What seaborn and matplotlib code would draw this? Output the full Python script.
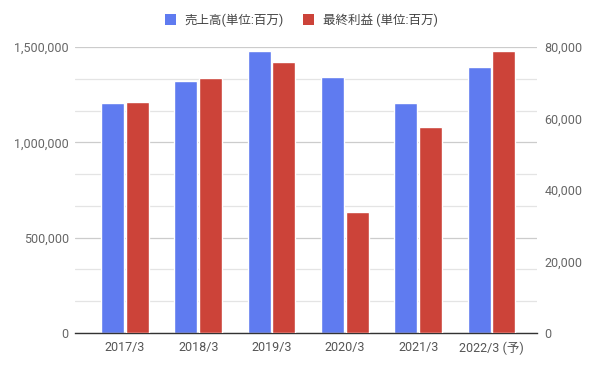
import numpy as np
import pandas as pd
import matplotlib
matplotlib.use("Agg")
import matplotlib.pyplot as plt
from matplotlib.patches import Patch
from matplotlib.ticker import MultipleLocator, FuncFormatter
import seaborn as sns

# Data
periods = ["2017/3", "2018/3", "2019/3", "2020/3", "2021/3", "2022/3 (予)"]
sales = [1205000, 1322000, 1479000, 1342000, 1206000, 1394000]   # 売上高 (百万)
profit = [64600, 71300, 75800, 33800, 57600, 78900]             # 最終利益 (百万)

SALES_LABEL = "売上高(単位:百万)"
PROFIT_LABEL = "最終利益 (単位:百万)"
BLUE = "#5f7bf0"
RED = "#cc4339"
hue_order = [SALES_LABEL, PROFIT_LABEL]


def main():
    sns.set_theme(style="white")
    plt.rcParams["font.family"] = ["Roboto", "Noto Sans CJK JP", "DejaVu Sans"]

    df_sales = pd.DataFrame({"period": periods, "value": sales, "series": SALES_LABEL})
    df_profit = pd.DataFrame({"period": periods, "value": profit, "series": PROFIT_LABEL})

    fig = plt.figure(figsize=(5.96, 3.68), dpi=100)
    ax = fig.add_axes([75 / 596, 1 - 333 / 368, 462 / 596, 286 / 368])
    ax2 = ax.twinx()

    palette = {SALES_LABEL: BLUE, PROFIT_LABEL: RED}
    # left axis: sales, right axis: profit; dodge keeps both in their slot
    sns.barplot(data=df_sales, x="period", y="value", hue="series",
                hue_order=hue_order, palette=palette, order=periods,
                dodge=True, width=0.67, gap=0.06, ax=ax, legend=False,
                saturation=1)
    sns.barplot(data=df_profit, x="period", y="value", hue="series",
                hue_order=hue_order, palette=palette, order=periods,
                dodge=True, width=0.67, gap=0.06, ax=ax2, legend=False,
                saturation=1)

    ax.set_xlim(-0.68, 5.62)
    ax.set_ylim(0, 1500000)
    ax2.set_ylim(0, 80000)

    # grid: majors at 500k, light lines in between (9 intervals)
    ax.yaxis.set_major_locator(MultipleLocator(500000))
    ax.yaxis.set_minor_locator(MultipleLocator(1500000 / 9))
    ax.set_axisbelow(True)
    ax.grid(axis="y", which="major", color="#cccccc", linewidth=0.9)
    ax.grid(axis="y", which="minor", color="#e4e4e4", linewidth=0.9)
    ax2.yaxis.set_major_locator(MultipleLocator(20000))
    ax2.grid(False)

    fmt = FuncFormatter(lambda v, p: f"{int(v):,}")
    ax.yaxis.set_major_formatter(fmt)
    ax2.yaxis.set_major_formatter(fmt)

    for a in (ax, ax2):
        for s in ("top", "left", "right", "bottom"):
            a.spines[s].set_visible(False)
        a.set_xlabel("")
        a.set_ylabel("")
        a.tick_params(axis="both", which="both", length=0, labelsize=9,
                      labelcolor="#666666")
    ax.spines["bottom"].set_visible(True)
    ax.spines["bottom"].set_color("#333333")
    ax.spines["bottom"].set_linewidth(1.0)
    ax.tick_params(axis="y", pad=4.5)
    ax2.tick_params(axis="y", pad=5.5)
    ax.tick_params(axis="x", pad=6, labelcolor="#555555")

    handles = [Patch(facecolor=BLUE, edgecolor="none", label=SALES_LABEL),
               Patch(facecolor=RED, edgecolor="none", label=PROFIT_LABEL)]
    fig.legend(handles=handles, loc="center", bbox_to_anchor=(0.505, 1 - 20 / 368),
               ncol=2, frameon=False, fontsize=9, labelcolor="#444444",
               handlelength=0.9, handleheight=0.9, handletextpad=0.7,
               columnspacing=1.5)

    fig.savefig("out.png", dpi=100)
    plt.close(fig)


if __name__ == "__main__":
    main()
